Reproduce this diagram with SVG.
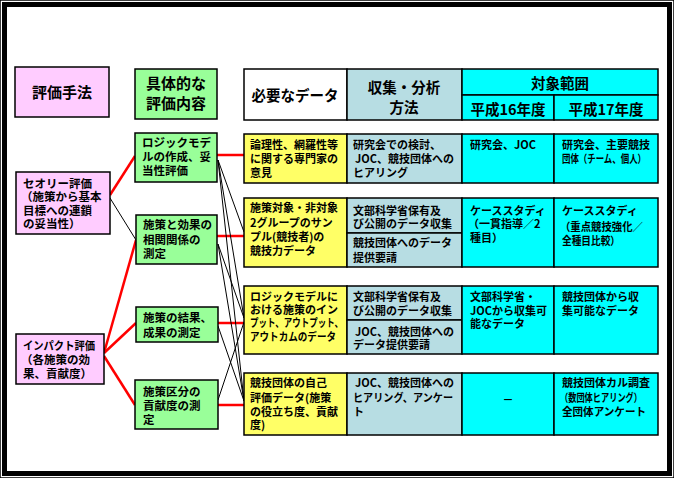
<svg xmlns="http://www.w3.org/2000/svg" width="674" height="478" viewBox="0 0 674 478">
<style>
text{font-family:"Noto Sans CJK JP","Noto Sans CJK SC",sans-serif;font-weight:700;fill:#000}
.t{font-size:11px}
.m{font-size:11.5px}
.h{font-size:14.5px;text-anchor:middle}
.c{text-anchor:middle}
rect{stroke:#000;stroke-width:1.5}
.pk{fill:#FFCCFF}.gr{fill:#99FF99}.ye{fill:#FFFF66}.bl{fill:#B7DDE3}.cy{fill:#00FFFF}.wh{fill:#FFFFFF}
.red{stroke:#FF0000;stroke-width:2.5;fill:none}
.blk{stroke:#000;stroke-width:1;fill:none}
</style>
<rect x="0" y="0" width="674" height="478" fill="#FFFFFF" stroke="none"/>
<rect x="4.5" y="4.5" width="665" height="469" fill="none" stroke="#000" style="stroke-width:5"/>

<g id="connectors">
<line class="red" x1="110" y1="195" x2="135" y2="156"/>
<line class="blk" x1="110" y1="198" x2="136" y2="240"/>
<line class="red" x1="104" y1="353" x2="136" y2="240"/>
<line class="red" x1="104" y1="353" x2="136" y2="323"/>
<line class="red" x1="104" y1="356" x2="135" y2="405"/>
<line class="red" x1="217" y1="155" x2="244" y2="155"/>
<line class="red" x1="217" y1="236" x2="244" y2="236"/>
<line class="red" x1="218" y1="323" x2="244" y2="323"/>
<line class="red" x1="218" y1="405" x2="244" y2="405"/>
<line class="blk" x1="218" y1="160" x2="244" y2="232"/>
<line class="blk" x1="218" y1="160" x2="244" y2="318"/>
<line class="blk" x1="218" y1="160" x2="244" y2="401"/>
<line class="blk" x1="218" y1="244" x2="244" y2="318"/>
<line class="blk" x1="218" y1="244" x2="244" y2="401"/>
<line class="blk" x1="218" y1="326" x2="244" y2="401"/>
<line class="blk" x1="218" y1="400" x2="244" y2="322"/>
</g>

<g id="method-header">
<rect class="pk" x="15" y="67" width="94" height="50"/>
<text class="h" x="62" y="97.5" style="font-size:15px">評価手法</text>
</g>
<g id="content-header">
<rect class="gr" x="135" y="69" width="82" height="50"/>
<text class="h" x="176" y="88.5" style="font-size:15px">具体的な</text>
<text class="h" x="176" y="108.5" style="font-size:15px">評価内容</text>
</g>
<g id="theory">
<rect class="pk" x="16" y="172" width="94" height="62"/>
<text class="m" x="23" y="188">セオリー評価</text>
<text class="m" x="21" y="201">（施策から基本</text>
<text class="m" x="23" y="215">目標への連鎖</text>
<text class="m" x="23" y="228">の妥当性）</text>
</g>
<g id="impact">
<rect class="pk" x="16" y="334" width="88" height="50"/>
<text class="m" x="23" y="350" textLength="72" lengthAdjust="spacingAndGlyphs">インパクト評価</text>
<text class="m" x="21" y="364">（各施策の効</text>
<text class="m" x="23" y="378">果、貢献度）</text>
</g>
<g id="logic-model">
<rect class="gr" x="135" y="133" width="82" height="49"/>
<text class="m" x="142" y="147">ロジックモデ</text>
<text class="m" x="142" y="161">ルの作成、妥</text>
<text class="m" x="142" y="175">当性評価</text>
</g>
<g id="correlation">
<rect class="gr" x="136" y="215" width="81" height="49"/>
<text class="m" x="143" y="229">施策と効果の</text>
<text class="m" x="143" y="244">相関関係の</text>
<text class="m" x="143" y="258">測定</text>
</g>
<g id="results">
<rect class="gr" x="136" y="307" width="82" height="35"/>
<text class="m" x="143" y="322">施策の結果、</text>
<text class="m" x="143" y="337">成果の測定</text>
</g>
<g id="contribution">
<rect class="gr" x="135" y="380" width="83" height="49"/>
<text class="m" x="143" y="396">施策区分の</text>
<text class="m" x="143" y="410">貢献度の測</text>
<text class="m" x="143" y="424">定</text>
</g>

<g id="table-header">
<rect class="wh" x="244" y="69" width="103" height="51"/>
<rect class="bl" x="347" y="69" width="115" height="51"/>
<rect class="cy" x="462" y="69" width="196" height="26"/>
<rect class="cy" x="462" y="95" width="92" height="25"/>
<rect class="cy" x="554" y="95" width="104" height="25"/>
<text class="h" x="295" y="100.5">必要なデータ</text>
<text class="h" x="404" y="92.5">収集・分析</text>
<text class="h" x="404" y="112.5">方法</text>
<text class="h" x="560" y="88.5">対象範囲</text>
<text class="h" x="508" y="114.5">平成16年度</text>
<text class="h" x="606" y="114.5">平成17年度</text>
</g>

<g id="row-expert">
<rect class="ye" x="244" y="134" width="103" height="49"/>
<rect class="bl" x="347" y="134" width="115" height="49"/>
<rect class="cy" x="462" y="134" width="92" height="49"/>
<rect class="cy" x="554" y="134" width="104" height="49"/>
<text class="t" x="250" y="149">論理性、網羅性等</text>
<text class="t" x="250" y="163">に関する専門家の</text>
<text class="t" x="250" y="177">意見</text>
<text class="t" x="353" y="149">研究会での検討、</text>
<text class="t" x="355" y="163">JOC、競技団体への</text>
<text class="t" x="353" y="177">ヒアリング</text>
<text class="t" x="470" y="149">研究会、JOC</text>
<text class="t" x="562" y="149">研究会、主要競技</text>
<text class="t" x="562" y="163" textLength="84" lengthAdjust="spacingAndGlyphs">団体（チーム、個人）</text>
</g>

<g id="row-sample">
<rect class="ye" x="244" y="198" width="103" height="69"/>
<rect class="bl" x="347" y="198" width="115" height="35"/>
<rect class="bl" x="347" y="233" width="115" height="34"/>
<rect class="cy" x="462" y="198" width="92" height="69"/>
<rect class="cy" x="554" y="198" width="104" height="69"/>
<text class="t" x="250" y="212">施策対象・非対象</text>
<text class="t" x="250" y="227">2グループのサン</text>
<text class="t" x="250" y="241">プル(競技者)の</text>
<text class="t" x="250" y="255">競技力データ</text>
<text class="t" x="353" y="215">文部科学省保有及</text>
<text class="t" x="353" y="228">び公開のデータ収集</text>
<text class="t" x="353" y="247">競技団体へのデータ</text>
<text class="t" x="353" y="262">提供要請</text>
<text class="t" x="470" y="215">ケーススタディ</text>
<text class="t" x="468" y="228">（一貫指導／2</text>
<text class="t" x="470" y="242">種目）</text>
<text class="t" x="562" y="215">ケーススタディ</text>
<text class="t" x="560" y="231" textLength="83" lengthAdjust="spacingAndGlyphs">（重点競技強化／</text>
<text class="t" x="562" y="245" textLength="58" lengthAdjust="spacingAndGlyphs">全種目比較）</text>
</g>

<g id="row-logic">
<rect class="ye" x="244" y="286" width="103" height="68"/>
<rect class="bl" x="347" y="286" width="115" height="34"/>
<rect class="bl" x="347" y="320" width="115" height="34"/>
<rect class="cy" x="462" y="286" width="92" height="68"/>
<rect class="cy" x="554" y="286" width="104" height="68"/>
<text class="t" x="250" y="301">ロジックモデルに</text>
<text class="t" x="250" y="314">おける施策のイン</text>
<text class="t" x="250" y="327" textLength="93" lengthAdjust="spacingAndGlyphs">プット、アウトプット、</text>
<text class="t" x="250" y="341" textLength="86" lengthAdjust="spacingAndGlyphs">アウトカムのデータ</text>
<text class="t" x="353" y="301">文部科学省保有及</text>
<text class="t" x="353" y="315">び公開のデータ収集</text>
<text class="t" x="355" y="336">JOC、競技団体への</text>
<text class="t" x="353" y="349">データ提供要請</text>
<text class="t" x="470" y="301">文部科学省・</text>
<text class="t" x="470" y="315" textLength="77" lengthAdjust="spacingAndGlyphs">JOCから収集可</text>
<text class="t" x="470" y="328">能なデータ</text>
<text class="t" x="562" y="301">競技団体から収</text>
<text class="t" x="562" y="315">集可能なデータ</text>
</g>

<g id="row-self">
<rect class="ye" x="244" y="373" width="103" height="62"/>
<rect class="bl" x="347" y="373" width="115" height="62"/>
<rect class="cy" x="462" y="373" width="92" height="62"/>
<rect class="cy" x="554" y="373" width="104" height="62"/>
<text class="t" x="250" y="387">競技団体の自己</text>
<text class="t" x="250" y="402">評価データ(施策</text>
<text class="t" x="250" y="416">の役立ち度、貢献</text>
<text class="t" x="250" y="429">度)</text>
<text class="t" x="355" y="387">JOC、競技団体への</text>
<text class="t" x="353" y="402" textLength="100" lengthAdjust="spacingAndGlyphs">ヒアリング、アンケー</text>
<text class="t" x="353" y="416">ト</text>
<text class="t c" x="508" y="404">－</text>
<text class="t" x="562" y="387">競技団体カル調査</text>
<text class="t" x="560" y="402" textLength="82" lengthAdjust="spacingAndGlyphs">（数団体ヒアリング）</text>
<text class="t" x="562" y="416" textLength="84" lengthAdjust="spacingAndGlyphs">全団体アンケート</text>
</g>
</svg>
